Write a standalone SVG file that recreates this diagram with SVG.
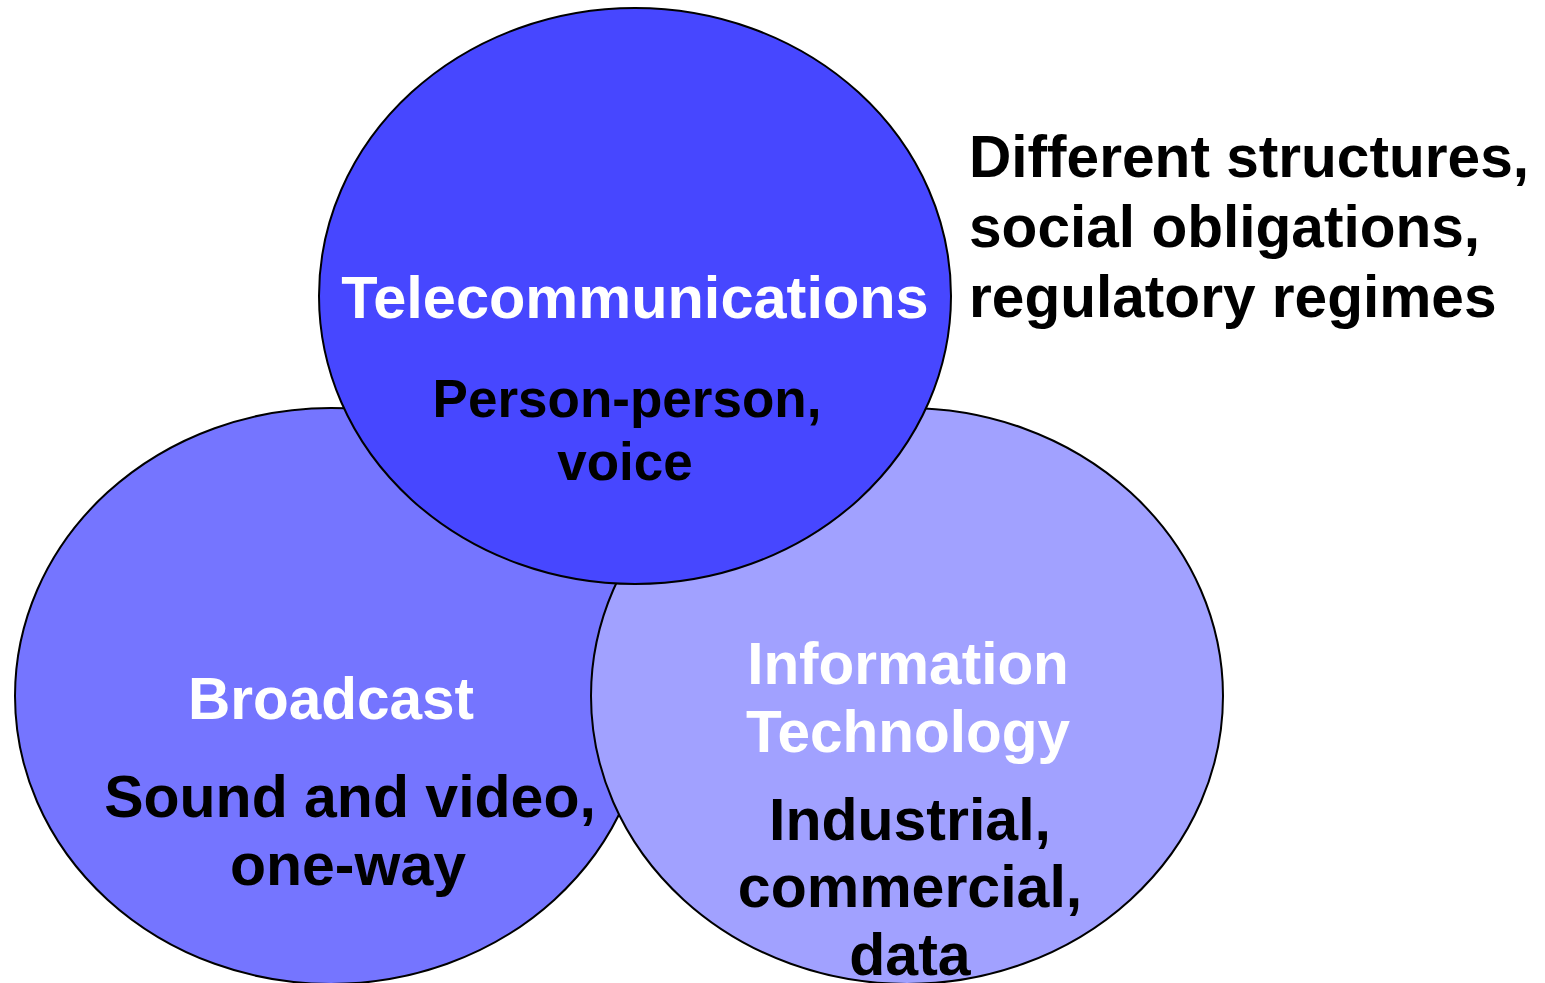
<svg xmlns="http://www.w3.org/2000/svg" width="1545" height="983" viewBox="0 0 1545 983">
<style>
.ell{stroke:#000;stroke-width:2}
.t{font-family:"Liberation Sans",Arial,sans-serif;font-weight:bold;text-anchor:middle}
.title{fill:#fff;font-size:58.5px}
.body{fill:#000}
.note{fill:#000;font-size:58.6px;text-anchor:start}
</style>
<rect width="1545" height="983" fill="#fff"/>
<g id="broadcast">
<ellipse class="ell" cx="331" cy="696" rx="316" ry="288" fill="#7575FF"/>
</g>
<g id="it">
<ellipse class="ell" cx="907" cy="696" rx="316" ry="288" fill="#A1A1FF"/>
</g>
<g id="telecom">
<ellipse class="ell" cx="635" cy="296" rx="316" ry="288" fill="#4747FF"/>
<text class="t title" font-size="59.5" style="font-size:59.5px" x="635" y="318">Telecommunications</text>
<text class="t body" font-size="53" x="627" y="417">Person-person,</text>
<text class="t body" font-size="53" x="625" y="480">voice</text>
</g>
<g id="broadcast-text">
<text class="t title" x="331" y="719">Broadcast</text>
<text class="t body" font-size="59" x="350" y="817">Sound and video,</text>
<text class="t body" font-size="59" x="348" y="885">one-way</text>
</g>
<g id="it-text">
<text class="t title" x="908" y="684">Information</text>
<text class="t title" x="908" y="752">Technology</text>
<text class="t body" font-size="59" x="910" y="840">Industrial,</text>
<text class="t body" font-size="59" x="910" y="907">commercial,</text>
<text class="t body" font-size="59" x="910" y="975">data</text>
</g>
<g id="note">
<text class="t note" x="969" y="177">Different structures,</text>
<text class="t note" x="969" y="247">social obligations,</text>
<text class="t note" x="969" y="317">regulatory regimes</text>
</g>
<g id="connectors"></g>
</svg>
